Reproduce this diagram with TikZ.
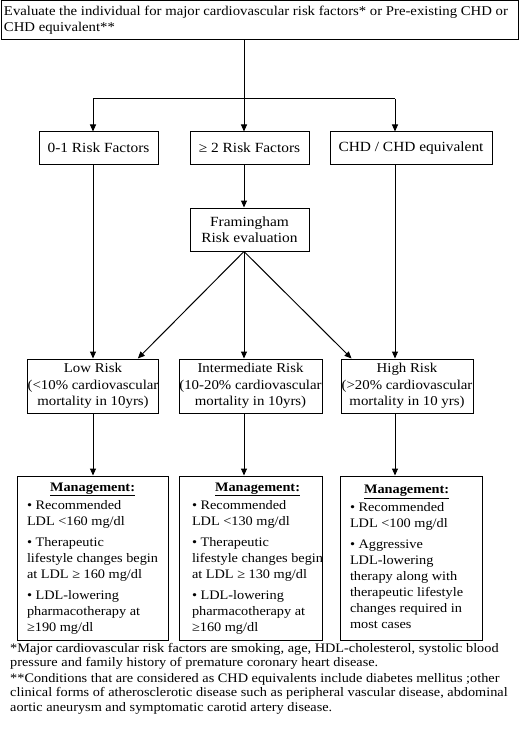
\documentclass[tikz,border=0pt]{standalone}
\usepackage{fontspec}
\setmainfont{Liberation Serif}[FakeStretch=1.1]
\usetikzlibrary{arrows.meta,calc}
\newcommand{\mgtitle}{\multicolumn{1}{@{}c@{}}{\underline{\textbf{Management:}}}}
\begin{document}
\begin{tikzpicture}[x=1pt,y=-1pt,
  font=\fontsize{14}{16}\selectfont,
  box/.style={draw, line width=1pt, inner sep=1pt, align=center},
  riskbox/.style={box, minimum height=54pt, inner sep=0pt, font=\fontsize{13.5}{16.5}\selectfont},
  mgmt/.style={draw, line width=1pt, inner sep=0pt, minimum height=164pt,
               font=\fontsize{13}{16}\selectfont},
  conn/.style={line width=1pt},
  arr/.style={conn, -{Triangle[length=7pt,width=6pt]}}]
\useasboundingbox (0,0) rectangle (520,741);

% top box
\node[box, inner sep=0pt, minimum width=517pt, minimum height=39pt,
      font=\fontsize{13.4}{16}\selectfont] (top) at (259.5,20)
  {\makebox[517pt][l]{\hspace{3pt}\begin{tabular}{@{}l@{}}Evaluate the individual for major cardiovascular risk factors* or Pre-existing CHD or\\CHD equivalent**\end{tabular}}};

% second row
\node[box, minimum width=119pt, minimum height=32pt] (b01) at (98.5,148) {0-1 Risk Factors};
\node[box, minimum width=119pt, minimum height=32pt] (b2) at (249.5,148) {≥ 2 Risk Factors};
\node[box, minimum width=162pt, minimum height=32pt] (bchd) at (411,148) {CHD / CHD equivalent};

% framingham
\node[box, minimum width=119pt, minimum height=43pt] (fr) at (249.5,229.5) {Framingham\\Risk evaluation};

% risk row
\node[riskbox, minimum width=130pt] (low) at (93,386)
  {Low Risk\\(<10\% cardiovascular\\mortality in 10yrs)};
\node[riskbox, minimum width=143pt] (inter) at (250.5,386)
  {Intermediate Risk\\(10-20\% cardiovascular\\mortality in 10yrs)};
\node[riskbox, minimum width=132pt] (high) at (407,386)
  {High Risk\\(>20\% cardiovascular\\mortality in 10 yrs)};

% management row
\node[mgmt, minimum width=151pt] (m1) at (92.5,558)
  {\makebox[151pt][l]{\hspace{10pt}\begin{tabular}{@{}l@{}}\mgtitle\\[2pt]
   • Recommended\\LDL <160 mg/dl\\[5pt]
   • Therapeutic\\lifestyle changes begin\\at LDL ≥ 160 mg/dl\\[5pt]
   • LDL-lowering\\pharmacotherapy at\\≥190 mg/dl\end{tabular}}};
\node[mgmt, minimum width=143pt] (m2) at (250.5,558)
  {\makebox[143pt][l]{\hspace{13pt}\begin{tabular}{@{}l@{}}\mgtitle\\[2pt]
   • Recommended\\LDL <130 mg/dl\\[5pt]
   • Therapeutic\\lifestyle changes begin\\at LDL ≥ 130 mg/dl\\[5pt]
   • LDL-lowering\\pharmacotherapy at\\≥160 mg/dl\end{tabular}}};
\node[mgmt, minimum width=142pt] (m3) at (411,558)
  {\makebox[142pt][l]{\hspace{10pt}\begin{tabular}{@{}l@{}}\mgtitle\\[2pt]
   • Recommended\\LDL <100 mg/dl\\[5pt]
   • Aggressive\\LDL-lowering\\therapy along with\\therapeutic lifestyle\\changes required in\\most cases\end{tabular}}};

% footnotes
\node[anchor=north west, inner sep=0pt, align=left,
      font=\fontsize{13}{14.5}\selectfont] (notes) at (10,643)
  {*Major cardiovascular risk factors are smoking, age, HDL-cholesterol, systolic blood\\
   pressure and family history of premature coronary heart disease.\\[1pt]
   **Conditions that are considered as CHD equivalents include diabetes mellitus ;other\\
   clinical forms of atherosclerotic disease such as peripheral vascular disease, abdominal\\
   aortic aneurysm and symptomatic carotid artery disease.};

% connectors
\coordinate (j) at (244,99);
\coordinate (jl) at (93,99);
\coordinate (jr) at (395,99);
\draw[conn] (top.south -| j) -- (j);
\draw[conn] (jl) -- (jr);
\draw[arr] (jl) -- (jl |- b01.north);
\draw[arr] (j) -- (j |- b2.north);
\draw[arr] (jr) -- (jr |- bchd.north);
\draw[arr] (j |- b2.south) -- (j |- fr.north);
\draw[arr] (jl |- b01.south) -- (jl |- low.north);
\draw[arr] (jr |- bchd.south) -- (jr |- high.north);
\draw[arr] (j |- fr.south) -- (j |- inter.north);
\draw[arr] (j |- fr.south) -- ($(low.north west)!0.84!(low.north east)$);
\draw[arr] (j |- fr.south) -- ($(high.north west)!0.083!(high.north east)$);
\draw[arr] (jl |- low.south) -- (jl |- m1.north);
\draw[arr] (j |- inter.south) -- (j |- m2.north);
\draw[arr] (jr |- high.south) -- (jr |- m3.north);
\end{tikzpicture}
\end{document}
